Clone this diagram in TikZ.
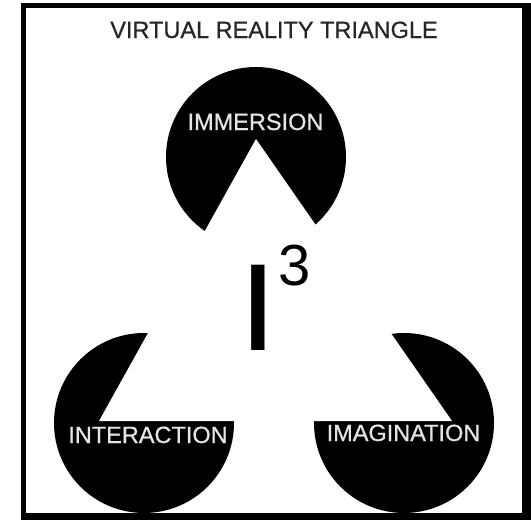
\documentclass[tikz,border=0pt]{standalone}
\usepackage{fontspec}
\setmainfont{Liberation Sans}
\newfontfamily\labelfont[FakeBold=0.7]{Liberation Sans}
\begin{document}
\begin{tikzpicture}[x=1pt,y=-1pt,
  lbl/.style={font=\labelfont\fontsize{23.5}{23.5}\selectfont, inner sep=0pt, anchor=base},
  disc/.style={fill=black},
  gap/.style={fill=white}]
\useasboundingbox (0,0) rectangle (531,520);
% frame
\fill[black] (21,3) rectangle (531,520);
\fill[white] (26,8) rectangle (522,513);
% title
\node[lbl, text=black!85] (title) at (274,38) {VIRTUAL REALITY TRIANGLE};
% three discs
\fill[disc] (256,157) circle[radius=90];
\fill[disc] (144,423) circle[radius=90];
\fill[disc] (404,423) circle[radius=90];
% illusory triangle
\coordinate (T) at (256,139);
\coordinate (L) at (99,421);
\coordinate (R) at (452,421);
\fill[gap] (T) -- (L) -- (R) -- cycle;
% labels
\node[lbl, text=white!90!black] (imm) at (255.5,130) {IMMERSION};
\node[lbl, text=white!90!black] (inter) at (148,443) {INTERACTION};
\node[lbl, text=white!90!black] (imag) at (403.5,441) {IMAGINATION};
% I^3
\node[inner sep=0pt, anchor=base, font=\fontsize{124}{124}\selectfont, xscale=1.15] (I) at (258.5,350) {I};
\node[inner sep=0pt, anchor=base, font=\fontsize{58}{58}\selectfont] (three) at (294.5,285) {3};
\end{tikzpicture}
\end{document}
